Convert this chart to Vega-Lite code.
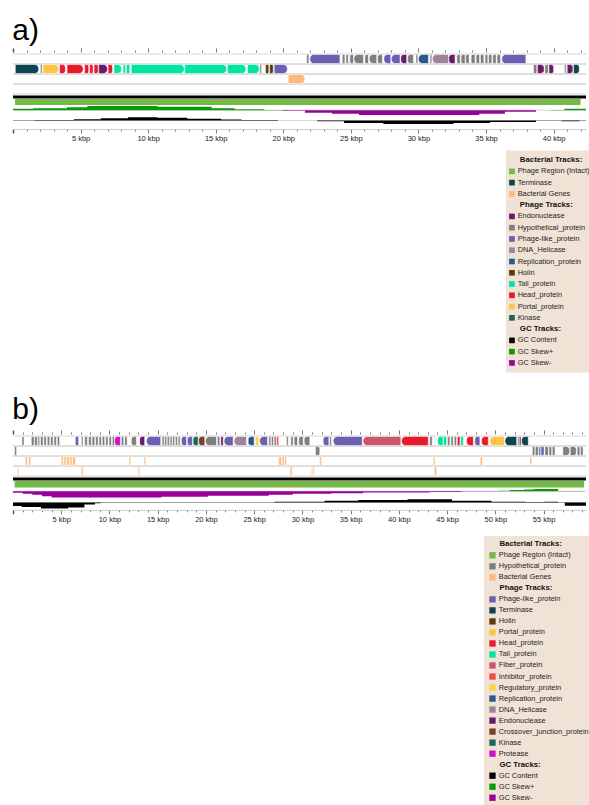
{
"$schema": "https://vega.github.io/schema/vega-lite/v6.json",
"background": "white",
"padding": {"left": 12, "top": 15, "right": 0, "bottom": 0},
"config": {"view": {"stroke": null}, "font": "Liberation Sans", "text": {"font": "Liberation Sans"}},
"datasets": {
"rows": [
{"g":"a","row":"1","kbp":0,"kbp2":42.4},{"g":"a","row":"2","kbp":0,"kbp2":42.4},{"g":"a","row":"3","kbp":0,"kbp2":42.4},{"g":"a","row":"4","kbp":0,"kbp2":42.4},
{"g":"b","row":"1","kbp":0,"kbp2":59.4},{"g":"b","row":"2","kbp":0,"kbp2":59.4},{"g":"b","row":"3","kbp":0,"kbp2":59.4},{"g":"b","row":"4","kbp":0,"kbp2":59.4}
],
"regions": [
{"g":"a","k":"backbone","kbp":0,"kbp2":42.4},{"g":"a","k":"phage","kbp":0.15,"kbp2":42.0},
{"g":"b","k":"backbone","kbp":0,"kbp2":59.4},{"g":"b","k":"phage","kbp":0.17,"kbp2":59.2}
],
"genes": [
{"g":"a","row":"2","kbp":0.17,"kbp2":1.9,"t":"Terminase","d":"+"},
{"g":"a","row":"2","kbp":2.03,"kbp2":2.15,"t":"Hypothetical_protein","d":"+"},
{"g":"a","row":"2","kbp":2.22,"kbp2":3.38,"t":"Portal_protein","d":"+"},
{"g":"a","row":"2","kbp":3.45,"kbp2":3.87,"t":"Head_protein","d":"+"},
{"g":"a","row":"2","kbp":4.0,"kbp2":5.19,"t":"Head_protein","d":"+"},
{"g":"a","row":"2","kbp":5.3,"kbp2":5.6,"t":"Head_protein","d":"+"},
{"g":"a","row":"2","kbp":5.67,"kbp2":5.93,"t":"Head_protein","d":"+"},
{"g":"a","row":"2","kbp":6.0,"kbp2":6.3,"t":"Head_protein","d":"+"},
{"g":"a","row":"2","kbp":6.34,"kbp2":6.99,"t":"Endonuclease","d":"+"},
{"g":"a","row":"2","kbp":7.04,"kbp2":7.36,"t":"Head_protein","d":"+"},
{"g":"a","row":"2","kbp":7.48,"kbp2":8.02,"t":"Tail_protein","d":"+"},
{"g":"a","row":"2","kbp":8.15,"kbp2":8.32,"t":"Tail_protein","d":"+"},
{"g":"a","row":"2","kbp":8.39,"kbp2":8.64,"t":"Tail_protein","d":"+"},
{"g":"a","row":"2","kbp":8.76,"kbp2":12.67,"t":"Tail_protein","d":"+"},
{"g":"a","row":"2","kbp":12.71,"kbp2":15.8,"t":"Tail_protein","d":"+"},
{"g":"a","row":"2","kbp":15.87,"kbp2":17.23,"t":"Tail_protein","d":"+"},
{"g":"a","row":"2","kbp":17.36,"kbp2":18.22,"t":"Tail_protein","d":"+"},
{"g":"a","row":"2","kbp":18.27,"kbp2":18.39,"t":"Hypothetical_protein","d":"+"},
{"g":"a","row":"2","kbp":18.69,"kbp2":18.93,"t":"Holin","d":"+"},
{"g":"a","row":"2","kbp":18.99,"kbp2":19.26,"t":"Holin","d":"+"},
{"g":"a","row":"2","kbp":19.33,"kbp2":20.3,"t":"Phage-like_protein","d":"+"},
{"g":"a","row":"2","kbp":38.52,"kbp2":38.76,"t":"Hypothetical_protein","d":"+"},
{"g":"a","row":"2","kbp":38.81,"kbp2":39.3,"t":"Endonuclease","d":"+"},
{"g":"a","row":"2","kbp":39.36,"kbp2":39.61,"t":"Hypothetical_protein","d":"+"},
{"g":"a","row":"2","kbp":39.66,"kbp2":40.0,"t":"Endonuclease","d":"+"},
{"g":"a","row":"2","kbp":40.81,"kbp2":40.93,"t":"Hypothetical_protein","d":"+"},
{"g":"a","row":"2","kbp":41.01,"kbp2":41.43,"t":"Endonuclease","d":"+"},
{"g":"a","row":"2","kbp":41.48,"kbp2":41.9,"t":"Terminase","d":"+"},
{"g":"a","row":"3","kbp":20.37,"kbp2":21.6,"t":"Bacterial Genes","d":"+"},
{"g":"a","row":"1","kbp":21.73,"kbp2":21.9,"t":"Hypothetical_protein","d":"-"},
{"g":"a","row":"1","kbp":21.97,"kbp2":24.19,"t":"Phage-like_protein","d":"-"},
{"g":"a","row":"1","kbp":24.37,"kbp2":24.56,"t":"Hypothetical_protein","d":"-"},
{"g":"a","row":"1","kbp":24.64,"kbp2":24.81,"t":"Hypothetical_protein","d":"-"},
{"g":"a","row":"1","kbp":24.93,"kbp2":25.19,"t":"Hypothetical_protein","d":"-"},
{"g":"a","row":"1","kbp":25.23,"kbp2":25.93,"t":"Hypothetical_protein","d":"-"},
{"g":"a","row":"1","kbp":26.04,"kbp2":26.3,"t":"Hypothetical_protein","d":"-"},
{"g":"a","row":"1","kbp":26.37,"kbp2":26.91,"t":"Hypothetical_protein","d":"-"},
{"g":"a","row":"1","kbp":26.98,"kbp2":27.33,"t":"Hypothetical_protein","d":"-"},
{"g":"a","row":"1","kbp":27.45,"kbp2":27.95,"t":"Phage-like_protein","d":"-"},
{"g":"a","row":"1","kbp":28.0,"kbp2":28.64,"t":"Phage-like_protein","d":"-"},
{"g":"a","row":"1","kbp":28.7,"kbp2":29.13,"t":"Endonuclease","d":"-"},
{"g":"a","row":"1","kbp":29.2,"kbp2":29.63,"t":"Hypothetical_protein","d":"-"},
{"g":"a","row":"1","kbp":29.82,"kbp2":29.95,"t":"Hypothetical_protein","d":"-"},
{"g":"a","row":"1","kbp":30.0,"kbp2":30.74,"t":"Replication_protein","d":"-"},
{"g":"a","row":"1","kbp":30.86,"kbp2":30.99,"t":"Hypothetical_protein","d":"-"},
{"g":"a","row":"1","kbp":31.04,"kbp2":32.22,"t":"DNA_Helicase","d":"-"},
{"g":"a","row":"1","kbp":32.25,"kbp2":32.71,"t":"Endonuclease","d":"-"},
{"g":"a","row":"1","kbp":32.84,"kbp2":33.09,"t":"Hypothetical_protein","d":"-"},
{"g":"a","row":"1","kbp":33.16,"kbp2":33.45,"t":"Hypothetical_protein","d":"-"},
{"g":"a","row":"1","kbp":33.5,"kbp2":33.75,"t":"Hypothetical_protein","d":"-"},
{"g":"a","row":"1","kbp":33.9,"kbp2":34.19,"t":"Hypothetical_protein","d":"-"},
{"g":"a","row":"1","kbp":34.27,"kbp2":34.52,"t":"Hypothetical_protein","d":"-"},
{"g":"a","row":"1","kbp":34.59,"kbp2":34.84,"t":"Hypothetical_protein","d":"-"},
{"g":"a","row":"1","kbp":34.93,"kbp2":35.13,"t":"Hypothetical_protein","d":"-"},
{"g":"a","row":"1","kbp":35.19,"kbp2":35.43,"t":"Hypothetical_protein","d":"-"},
{"g":"a","row":"1","kbp":35.5,"kbp2":35.75,"t":"Hypothetical_protein","d":"-"},
{"g":"a","row":"1","kbp":35.82,"kbp2":36.07,"t":"Hypothetical_protein","d":"-"},
{"g":"a","row":"1","kbp":36.17,"kbp2":37.95,"t":"Phage-like_protein","d":"-"},
{"g":"b","row":"1","kbp":0.93,"kbp2":1.14,"t":"Hypothetical_protein","d":"-"},
{"g":"b","row":"1","kbp":1.9,"kbp2":2.18,"t":"Hypothetical_protein","d":"-"},
{"g":"b","row":"1","kbp":2.24,"kbp2":2.52,"t":"Hypothetical_protein","d":"-"},
{"g":"b","row":"1","kbp":2.59,"kbp2":2.76,"t":"Hypothetical_protein","d":"-"},
{"g":"b","row":"1","kbp":2.86,"kbp2":3.11,"t":"Hypothetical_protein","d":"-"},
{"g":"b","row":"1","kbp":3.2,"kbp2":3.45,"t":"Hypothetical_protein","d":"-"},
{"g":"b","row":"1","kbp":3.56,"kbp2":3.8,"t":"Hypothetical_protein","d":"-"},
{"g":"b","row":"1","kbp":3.9,"kbp2":4.15,"t":"Hypothetical_protein","d":"-"},
{"g":"b","row":"1","kbp":4.25,"kbp2":4.49,"t":"Hypothetical_protein","d":"-"},
{"g":"b","row":"1","kbp":4.6,"kbp2":4.83,"t":"Hypothetical_protein","d":"-"},
{"g":"b","row":"1","kbp":6.46,"kbp2":6.8,"t":"Phage-like_protein","d":"-"},
{"g":"b","row":"1","kbp":7.09,"kbp2":7.26,"t":"Hypothetical_protein","d":"-"},
{"g":"b","row":"1","kbp":7.43,"kbp2":7.71,"t":"Hypothetical_protein","d":"-"},
{"g":"b","row":"1","kbp":7.84,"kbp2":8.12,"t":"Hypothetical_protein","d":"-"},
{"g":"b","row":"1","kbp":8.2,"kbp2":8.47,"t":"Hypothetical_protein","d":"-"},
{"g":"b","row":"1","kbp":8.57,"kbp2":8.82,"t":"Hypothetical_protein","d":"-"},
{"g":"b","row":"1","kbp":8.92,"kbp2":9.16,"t":"Hypothetical_protein","d":"-"},
{"g":"b","row":"1","kbp":9.26,"kbp2":9.5,"t":"Hypothetical_protein","d":"-"},
{"g":"b","row":"1","kbp":9.61,"kbp2":9.85,"t":"Hypothetical_protein","d":"-"},
{"g":"b","row":"1","kbp":9.96,"kbp2":10.2,"t":"Hypothetical_protein","d":"-"},
{"g":"b","row":"1","kbp":10.3,"kbp2":10.52,"t":"Hypothetical_protein","d":"-"},
{"g":"b","row":"1","kbp":10.55,"kbp2":11.13,"t":"Protease","d":"-"},
{"g":"b","row":"1","kbp":11.23,"kbp2":11.47,"t":"Hypothetical_protein","d":"-"},
{"g":"b","row":"1","kbp":11.58,"kbp2":11.83,"t":"Hypothetical_protein","d":"-"},
{"g":"b","row":"1","kbp":12.27,"kbp2":12.79,"t":"Hypothetical_protein","d":"-"},
{"g":"b","row":"1","kbp":13.13,"kbp2":13.65,"t":"Endonuclease","d":"-"},
{"g":"b","row":"1","kbp":13.83,"kbp2":15.31,"t":"Phage-like_protein","d":"-"},
{"g":"b","row":"1","kbp":15.46,"kbp2":15.66,"t":"Hypothetical_protein","d":"-"},
{"g":"b","row":"1","kbp":15.73,"kbp2":15.94,"t":"Hypothetical_protein","d":"-"},
{"g":"b","row":"1","kbp":16.0,"kbp2":16.21,"t":"Hypothetical_protein","d":"-"},
{"g":"b","row":"1","kbp":16.29,"kbp2":16.49,"t":"Hypothetical_protein","d":"-"},
{"g":"b","row":"1","kbp":16.56,"kbp2":16.76,"t":"Hypothetical_protein","d":"-"},
{"g":"b","row":"1","kbp":16.84,"kbp2":17.04,"t":"Hypothetical_protein","d":"-"},
{"g":"b","row":"1","kbp":17.12,"kbp2":17.32,"t":"Hypothetical_protein","d":"-"},
{"g":"b","row":"1","kbp":17.46,"kbp2":17.98,"t":"Phage-like_protein","d":"-"},
{"g":"b","row":"1","kbp":18.08,"kbp2":18.6,"t":"Phage-like_protein","d":"-"},
{"g":"b","row":"1","kbp":18.67,"kbp2":19.19,"t":"Kinase","d":"-"},
{"g":"b","row":"1","kbp":19.25,"kbp2":19.88,"t":"Crossover_junction_protein","d":"-"},
{"g":"b","row":"1","kbp":19.95,"kbp2":21.09,"t":"Hypothetical_protein","d":"-"},
{"g":"b","row":"1","kbp":21.19,"kbp2":21.43,"t":"Hypothetical_protein","d":"-"},
{"g":"b","row":"1","kbp":21.54,"kbp2":21.79,"t":"Endonuclease","d":"-"},
{"g":"b","row":"1","kbp":21.89,"kbp2":22.82,"t":"Phage-like_protein","d":"-"},
{"g":"b","row":"1","kbp":22.93,"kbp2":24.2,"t":"DNA_Helicase","d":"-"},
{"g":"b","row":"1","kbp":24.38,"kbp2":25.0,"t":"Replication_protein","d":"-"},
{"g":"b","row":"1","kbp":25.13,"kbp2":25.48,"t":"Regulatory_protein","d":"-"},
{"g":"b","row":"1","kbp":25.58,"kbp2":26.38,"t":"Phage-like_protein","d":"-"},
{"g":"b","row":"1","kbp":26.52,"kbp2":26.72,"t":"Hypothetical_protein","d":"-"},
{"g":"b","row":"1","kbp":26.79,"kbp2":27.0,"t":"Hypothetical_protein","d":"-"},
{"g":"b","row":"1","kbp":27.07,"kbp2":27.28,"t":"Hypothetical_protein","d":"-"},
{"g":"b","row":"1","kbp":27.34,"kbp2":27.55,"t":"Inhibitor_protein","d":"-"},
{"g":"b","row":"1","kbp":28.35,"kbp2":28.53,"t":"Hypothetical_protein","d":"-"},
{"g":"b","row":"1","kbp":28.8,"kbp2":29.04,"t":"Hypothetical_protein","d":"-"},
{"g":"b","row":"1","kbp":29.15,"kbp2":29.49,"t":"Hypothetical_protein","d":"-"},
{"g":"b","row":"1","kbp":29.63,"kbp2":30.08,"t":"Hypothetical_protein","d":"-"},
{"g":"b","row":"1","kbp":30.19,"kbp2":30.77,"t":"Hypothetical_protein","d":"-"},
{"g":"b","row":"1","kbp":32.16,"kbp2":32.74,"t":"Phage-like_protein","d":"-"},
{"g":"b","row":"1","kbp":32.84,"kbp2":33.02,"t":"Hypothetical_protein","d":"-"},
{"g":"b","row":"1","kbp":33.2,"kbp2":36.2,"t":"Phage-like_protein","d":"-"},
{"g":"b","row":"1","kbp":36.3,"kbp2":40.2,"t":"Fiber_protein","d":"-"},
{"g":"b","row":"1","kbp":40.28,"kbp2":43.05,"t":"Head_protein","d":"-"},
{"g":"b","row":"1","kbp":43.2,"kbp2":43.46,"t":"Hypothetical_protein","d":"-"},
{"g":"b","row":"1","kbp":44.02,"kbp2":44.58,"t":"Tail_protein","d":"-"},
{"g":"b","row":"1","kbp":44.63,"kbp2":44.95,"t":"Tail_protein","d":"-"},
{"g":"b","row":"1","kbp":45.05,"kbp2":45.29,"t":"Hypothetical_protein","d":"-"},
{"g":"b","row":"1","kbp":45.4,"kbp2":45.64,"t":"Hypothetical_protein","d":"-"},
{"g":"b","row":"1","kbp":45.75,"kbp2":45.98,"t":"Hypothetical_protein","d":"-"},
{"g":"b","row":"1","kbp":46.06,"kbp2":46.33,"t":"Head_protein","d":"-"},
{"g":"b","row":"1","kbp":46.4,"kbp2":46.68,"t":"Tail_protein","d":"-"},
{"g":"b","row":"1","kbp":47.02,"kbp2":47.72,"t":"Head_protein","d":"-"},
{"g":"b","row":"1","kbp":47.88,"kbp2":48.4,"t":"Phage-like_protein","d":"-"},
{"g":"b","row":"1","kbp":48.58,"kbp2":49.27,"t":"Head_protein","d":"-"},
{"g":"b","row":"1","kbp":49.44,"kbp2":50.93,"t":"Portal_protein","d":"-"},
{"g":"b","row":"1","kbp":51.0,"kbp2":52.21,"t":"Terminase","d":"-"},
{"g":"b","row":"1","kbp":52.31,"kbp2":52.45,"t":"Hypothetical_protein","d":"-"},
{"g":"b","row":"1","kbp":52.49,"kbp2":52.66,"t":"Holin","d":"-"},
{"g":"b","row":"1","kbp":52.73,"kbp2":53.42,"t":"Terminase","d":"-"},
{"g":"b","row":"2","kbp":0.17,"kbp2":0.37,"t":"Hypothetical_protein","d":"+"},
{"g":"b","row":"2","kbp":31.36,"kbp2":31.8,"t":"Hypothetical_protein","d":"+"},
{"g":"b","row":"2","kbp":53.84,"kbp2":54.1,"t":"Hypothetical_protein","d":"+"},
{"g":"b","row":"2","kbp":54.15,"kbp2":54.46,"t":"Hypothetical_protein","d":"+"},
{"g":"b","row":"2","kbp":54.5,"kbp2":54.72,"t":"Hypothetical_protein","d":"+"},
{"g":"b","row":"2","kbp":54.74,"kbp2":55.06,"t":"Phage-like_protein","d":"+"},
{"g":"b","row":"2","kbp":55.15,"kbp2":55.5,"t":"Hypothetical_protein","d":"+"},
{"g":"b","row":"2","kbp":55.57,"kbp2":55.84,"t":"Hypothetical_protein","d":"+"},
{"g":"b","row":"2","kbp":55.91,"kbp2":56.19,"t":"Hypothetical_protein","d":"+"},
{"g":"b","row":"2","kbp":57.0,"kbp2":57.7,"t":"Hypothetical_protein","d":"+"},
{"g":"b","row":"2","kbp":57.77,"kbp2":58.4,"t":"Hypothetical_protein","d":"+"},
{"g":"b","row":"2","kbp":58.49,"kbp2":58.77,"t":"Hypothetical_protein","d":"+"},
{"g":"b","row":"2","kbp":58.83,"kbp2":59.1,"t":"Hypothetical_protein","d":"+"},
{"g":"b","row":"3","kbp":1.28,"kbp2":1.48,"t":"Bacterial Genes","d":"-"},
{"g":"b","row":"3","kbp":1.62,"kbp2":1.83,"t":"Bacterial Genes","d":"-"},
{"g":"b","row":"3","kbp":5.01,"kbp2":5.22,"t":"Bacterial Genes","d":"-"},
{"g":"b","row":"3","kbp":5.29,"kbp2":5.5,"t":"Bacterial Genes","d":"-"},
{"g":"b","row":"3","kbp":5.56,"kbp2":5.84,"t":"Bacterial Genes","d":"-"},
{"g":"b","row":"3","kbp":5.91,"kbp2":6.12,"t":"Bacterial Genes","d":"-"},
{"g":"b","row":"3","kbp":6.18,"kbp2":6.46,"t":"Bacterial Genes","d":"-"},
{"g":"b","row":"3","kbp":12.03,"kbp2":12.2,"t":"Bacterial Genes","d":"-"},
{"g":"b","row":"3","kbp":13.59,"kbp2":13.76,"t":"Bacterial Genes","d":"-"},
{"g":"b","row":"3","kbp":27.55,"kbp2":27.83,"t":"Bacterial Genes","d":"-"},
{"g":"b","row":"3","kbp":27.9,"kbp2":28.11,"t":"Bacterial Genes","d":"-"},
{"g":"b","row":"3","kbp":28.17,"kbp2":28.35,"t":"Bacterial Genes","d":"-"},
{"g":"b","row":"3","kbp":31.8,"kbp2":31.98,"t":"Bacterial Genes","d":"-"},
{"g":"b","row":"3","kbp":43.57,"kbp2":43.74,"t":"Bacterial Genes","d":"-"},
{"g":"b","row":"3","kbp":48.44,"kbp2":48.65,"t":"Bacterial Genes","d":"-"},
{"g":"b","row":"3","kbp":53.59,"kbp2":53.77,"t":"Bacterial Genes","d":"-"},
{"g":"b","row":"4","kbp":0.45,"kbp2":0.58,"t":"Bacterial Genes","d":"+"},
{"g":"b","row":"4","kbp":7.09,"kbp2":7.26,"t":"Bacterial Genes","d":"+"},
{"g":"b","row":"4","kbp":12.97,"kbp2":13.13,"t":"Bacterial Genes","d":"+"},
{"g":"b","row":"4","kbp":28.73,"kbp2":28.94,"t":"Bacterial Genes","d":"+"},
{"g":"b","row":"4","kbp":30.94,"kbp2":31.05,"t":"Bacterial Genes","d":"+"},
{"g":"b","row":"4","kbp":31.1,"kbp2":31.22,"t":"Bacterial Genes","d":"+"},
{"g":"b","row":"4","kbp":43.67,"kbp2":43.91,"t":"Bacterial Genes","d":"+"}
],
"skew": [
{"g":"a","sr":"pos","kbp":0,"v":1.5},{"g":"a","sr":"pos","kbp":1.5,"v":2.0},{"g":"a","sr":"pos","kbp":4,"v":3.0},{"g":"a","sr":"pos","kbp":5.5,"v":4.3},{"g":"a","sr":"pos","kbp":10.7,"v":3.4},{"g":"a","sr":"pos","kbp":14.7,"v":2.0},{"g":"a","sr":"pos","kbp":16.4,"v":1.0},{"g":"a","sr":"pos","kbp":18.6,"v":0.3},{"g":"a","sr":"pos","kbp":20.5,"v":0},{"g":"a","sr":"pos","kbp":39.7,"v":0.3},{"g":"a","sr":"pos","kbp":40.8,"v":1.5},{"g":"a","sr":"pos","kbp":42.4,"v":1.5},
{"g":"a","sr":"neg","kbp":19.9,"v":-0.6},{"g":"a","sr":"neg","kbp":21.6,"v":-2.5},{"g":"a","sr":"neg","kbp":23.6,"v":-3.5},{"g":"a","sr":"neg","kbp":25.6,"v":-4.8},{"g":"a","sr":"neg","kbp":34.5,"v":-3.5},{"g":"a","sr":"neg","kbp":36.4,"v":-1.5},{"g":"a","sr":"neg","kbp":38.7,"v":0},
{"g":"b","sr":"neg","kbp":0,"v":-1.5},{"g":"b","sr":"neg","kbp":1,"v":-2.5},{"g":"b","sr":"neg","kbp":2,"v":-3.5},{"g":"b","sr":"neg","kbp":3,"v":-5},{"g":"b","sr":"neg","kbp":4,"v":-6.2},{"g":"b","sr":"neg","kbp":15.4,"v":-5.5},{"g":"b","sr":"neg","kbp":20.2,"v":-4.5},{"g":"b","sr":"neg","kbp":26.5,"v":-3.5},{"g":"b","sr":"neg","kbp":29,"v":-2.5},{"g":"b","sr":"neg","kbp":33,"v":-1.9},{"g":"b","sr":"neg","kbp":36.3,"v":-1.2},{"g":"b","sr":"neg","kbp":43.2,"v":-0.7},{"g":"b","sr":"neg","kbp":46.5,"v":-0.3},{"g":"b","sr":"neg","kbp":50.3,"v":0},
{"g":"b","sr":"pos","kbp":50.3,"v":0.5},{"g":"b","sr":"pos","kbp":51.5,"v":1.2},{"g":"b","sr":"pos","kbp":53,"v":1.8},{"g":"b","sr":"pos","kbp":54,"v":2.2},{"g":"b","sr":"pos","kbp":56.5,"v":0.3},{"g":"b","sr":"pos","kbp":59,"v":0.2},{"g":"b","sr":"pos","kbp":59.3,"v":0}
],
"gc": [
{"g":"a","kbp":0,"v":-0.3},{"g":"a","kbp":1.6,"v":0.5},{"g":"a","kbp":4.5,"v":1.2},{"g":"a","kbp":6.5,"v":2.3},{"g":"a","kbp":8.5,"v":3.3},{"g":"a","kbp":10.7,"v":2.7},{"g":"a","kbp":12.9,"v":1.8},{"g":"a","kbp":15.4,"v":1.0},{"g":"a","kbp":16.9,"v":0.4},{"g":"a","kbp":19.6,"v":0.1},{"g":"a","kbp":22.5,"v":-0.8},{"g":"a","kbp":24.5,"v":-2.5},{"g":"a","kbp":27.4,"v":-3.5},{"g":"a","kbp":32.6,"v":-2.5},{"g":"a","kbp":35.3,"v":-1.5},{"g":"a","kbp":38.7,"v":-0.3},{"g":"a","kbp":40.6,"v":-0.8},{"g":"a","kbp":41.9,"v":-0.3},{"g":"a","kbp":42.4,"v":-0.3},
{"g":"b","kbp":0,"v":-3.5},{"g":"b","kbp":0.9,"v":-4.5},{"g":"b","kbp":2.9,"v":-6},{"g":"b","kbp":5.7,"v":-5},{"g":"b","kbp":7.4,"v":-2},{"g":"b","kbp":8.5,"v":-0.7},{"g":"b","kbp":9.1,"v":-0.3},{"g":"b","kbp":12,"v":0.2},{"g":"b","kbp":20,"v":0.3},{"g":"b","kbp":27.1,"v":0.8},{"g":"b","kbp":32.3,"v":1.7},{"g":"b","kbp":35.8,"v":2.5},{"g":"b","kbp":40.9,"v":3.3},{"g":"b","kbp":45.5,"v":1.7},{"g":"b","kbp":49.6,"v":0.7},{"g":"b","kbp":53.1,"v":0.4},{"g":"b","kbp":55.1,"v":0.7},{"g":"b","kbp":56.5,"v":0.2},{"g":"b","kbp":57.2,"v":-3.3},{"g":"b","kbp":59.4,"v":-3.3}
],
"legendA": [
{"label":"Bacterial Tracks:","kind":"h"},{"label":"Phage Region (Intact)","kind":"i"},{"label":"Terminase","kind":"i"},{"label":"Bacterial Genes","kind":"i"},
{"label":"Phage Tracks:","kind":"h"},{"label":"Endonuclease","kind":"i"},{"label":"Hypothetical_protein","kind":"i"},{"label":"Phage-like_protein","kind":"i"},{"label":"DNA_Helicase","kind":"i"},{"label":"Replication_protein","kind":"i"},{"label":"Holin","kind":"i"},{"label":"Tail_protein","kind":"i"},{"label":"Head_protein","kind":"i"},{"label":"Portal_protein","kind":"i"},{"label":"Kinase","kind":"i"},
{"label":"GC Tracks:","kind":"h"},{"label":"GC Content","kind":"i"},{"label":"GC Skew+","kind":"i"},{"label":"GC Skew-","kind":"i"}
],
"legendB": [
{"label":"Bacterial Tracks:","kind":"h"},{"label":"Phage Region (Intact)","kind":"i"},{"label":"Hypothetical_protein","kind":"i"},{"label":"Bacterial Genes","kind":"i"},
{"label":"Phage Tracks:","kind":"h"},{"label":"Phage-like_protein","kind":"i"},{"label":"Terminase","kind":"i"},{"label":"Holin","kind":"i"},{"label":"Portal_protein","kind":"i"},{"label":"Head_protein","kind":"i"},{"label":"Tail_protein","kind":"i"},{"label":"Fiber_protein","kind":"i"},{"label":"Inhibitor_protein","kind":"i"},{"label":"Regulatory_protein","kind":"i"},{"label":"Replication_protein","kind":"i"},{"label":"DNA_Helicase","kind":"i"},{"label":"Endonuclease","kind":"i"},{"label":"Crossover_junction_protein","kind":"i"},{"label":"Kinase","kind":"i"},{"label":"Protease","kind":"i"},
{"label":"GC Tracks:","kind":"h"},{"label":"GC Content","kind":"i"},{"label":"GC Skew+","kind":"i"},{"label":"GC Skew-","kind":"i"}
]
},
"spacing": 22,
"vconcat": [
{
"title": {"text": "a)", "anchor": "start", "fontSize": 30, "fontWeight": "normal", "font": "Liberation Sans", "color": "#000", "offset": 1.5},
"spacing": 8.5,
"vconcat": [
{
"spacing": 0.5,
"vconcat": [
{
"width": 573, "height": 40,
"data": {"name": "rows"},
"encoding": {
"x": {"field": "kbp", "type": "quantitative", "scale": {"domain": [0, 42.4], "nice": false, "zero": false},
"axis": {"orient": "top", "title": null, "tickCount": 43, "domain": false, "labels": false, "grid": false, "offset": 2, "tickColor": "#555", "tickSize": {"condition": {"test": "datum.value % 5 === 0", "value": 4}, "value": 2}, "tickWidth": {"condition": {"test": "datum.value === 0", "value": 1.5}, "value": 0.8}}},
"x2": {"field": "kbp2"},
"y": {"field": "row", "type": "ordinal", "scale": {"domain": ["1","2","3","4"], "paddingInner": 0, "paddingOuter": 0}, "axis": null}
},
"layer": [
{"transform": [{"filter": "datum.g === 'a'"}], "mark": {"type": "rule", "color": "#d4d4d4", "strokeWidth": 1}, "encoding": {"y": {"field": "row", "type": "ordinal", "bandPosition": 0}}},
{"transform": [{"filter": "datum.g === 'a'"}], "mark": {"type": "rule", "color": "#d4d4d4", "strokeWidth": 1}, "encoding": {"y": {"field": "row", "type": "ordinal", "bandPosition": 1}}},
{"data": {"name": "genes"}, "transform": [{"filter": "datum.g === 'a' && datum.d === '+'"}], "mark": {"type": "bar", "height": {"band": 0.9}, "cornerRadiusTopRight": 4, "cornerRadiusBottomRight": 4, "stroke": "white", "strokeWidth": 0.5},
"encoding": {"color": {"field": "t", "type": "nominal", "legend": null, "scale": {"domain": ["Phage Region (Intact)","Terminase","Bacterial Genes","Endonuclease","Hypothetical_protein","Phage-like_protein","DNA_Helicase","Replication_protein","Holin","Tail_protein","Head_protein","Portal_protein","Kinase","Fiber_protein","Inhibitor_protein","Regulatory_protein","Crossover_junction_protein","Protease","GC Content","GC Skew+","GC Skew-"], "range": ["#76b947","#0e4452","#fdb97d","#6b1a6b","#7f7f7f","#6a5fb0","#a08399","#28598c","#5c3c0e","#00e5a0","#e8192c","#fdc543","#18695a","#c9566b","#f24c4c","#fdd33f","#7b4028","#cc11cc","#000000","#0a990a","#990099"]}}}},
{"data": {"name": "genes"}, "transform": [{"filter": "datum.g === 'a' && datum.d === '-'"}], "mark": {"type": "bar", "height": {"band": 0.9}, "cornerRadiusTopLeft": 4, "cornerRadiusBottomLeft": 4, "stroke": "white", "strokeWidth": 0.5},
"encoding": {"color": {"field": "t", "type": "nominal", "legend": null, "scale": {"domain": ["Phage Region (Intact)","Terminase","Bacterial Genes","Endonuclease","Hypothetical_protein","Phage-like_protein","DNA_Helicase","Replication_protein","Holin","Tail_protein","Head_protein","Portal_protein","Kinase","Fiber_protein","Inhibitor_protein","Regulatory_protein","Crossover_junction_protein","Protease","GC Content","GC Skew+","GC Skew-"], "range": ["#76b947","#0e4452","#fdb97d","#6b1a6b","#7f7f7f","#6a5fb0","#a08399","#28598c","#5c3c0e","#00e5a0","#e8192c","#fdc543","#18695a","#c9566b","#f24c4c","#fdd33f","#7b4028","#cc11cc","#000000","#0a990a","#990099"]}}}}
]
},
{
"width": 573, "height": 3,
"data": {"name": "regions"},
"transform": [{"filter": "datum.g === 'a' && datum.k === 'backbone'"}],
"mark": {"type": "rect", "color": "#000000"},
"encoding": {"x": {"field": "kbp", "type": "quantitative", "scale": {"domain": [0, 42.4], "nice": false, "zero": false}, "axis": null}, "x2": {"field": "kbp2"}}
},
{
"width": 573, "height": 6,
"data": {"name": "regions"},
"transform": [{"filter": "datum.g === 'a' && datum.k === 'phage'"}],
"mark": {"type": "rect", "color": "#76b947"},
"encoding": {"x": {"field": "kbp", "type": "quantitative", "scale": {"domain": [0, 42.4], "nice": false, "zero": false}, "axis": null}, "x2": {"field": "kbp2"}}
},
{
"width": 573, "height": 9.5,
"encoding": {"x": {"field": "kbp", "type": "quantitative", "scale": {"domain": [0, 42.4], "nice": false, "zero": false}, "axis": null}},
"layer": [
{"data": {"name": "regions"}, "transform": [{"filter": "datum.g === 'a' && datum.k === 'backbone'"}], "mark": {"type": "rule", "color": "#cfcfcf", "strokeWidth": 0.8}, "encoding": {"x2": {"field": "kbp2"}, "y": {"datum": 0, "type": "quantitative", "scale": {"domain": [-4.8, 4.7], "nice": false, "zero": false}, "axis": null}}},
{"data": {"name": "skew"}, "transform": [{"filter": "datum.g === 'a' && datum.sr === 'pos'"}], "mark": {"type": "area", "color": "#0a990a", "interpolate": "step-after"}, "encoding": {"y": {"field": "v", "type": "quantitative", "stack": null, "axis": null}, "y2": {"datum": 0}}},
{"data": {"name": "skew"}, "transform": [{"filter": "datum.g === 'a' && datum.sr === 'neg'"}], "mark": {"type": "area", "color": "#990099", "interpolate": "step-after"}, "encoding": {"y": {"field": "v", "type": "quantitative", "stack": null, "axis": null}, "y2": {"datum": 0}}}
]
},
{
"width": 573, "height": 10.5,
"encoding": {"x": {"field": "kbp", "type": "quantitative", "scale": {"domain": [0, 42.4], "nice": false, "zero": false},
"axis": {"orient": "bottom", "title": null, "tickCount": 43, "grid": false, "offset": 2.5, "domainColor": "#cccccc", "tickColor": "#555", "tickSize": {"condition": {"test": "datum.value % 5 === 0", "value": 4}, "value": 2}, "tickWidth": {"condition": {"test": "datum.value === 0", "value": 1.5}, "value": 0.8}, "labelExpr": "datum.value > 0 && datum.value % 5 === 0 ? datum.value + ' kbp' : ''", "labelFontSize": 7.5, "labelColor": "#222", "labelPadding": 1.5, "labelOverlap": false, "labelFlush": false, "labelFont": "Liberation Sans"}}},
"layer": [
{"data": {"name": "regions"}, "transform": [{"filter": "datum.g === 'a' && datum.k === 'backbone'"}], "mark": {"type": "rule", "color": "#cfcfcf", "strokeWidth": 0.8}, "encoding": {"x2": {"field": "kbp2"}, "y": {"datum": 0, "type": "quantitative", "scale": {"domain": [-6, 4.5], "nice": false, "zero": false}, "axis": null}}},
{"data": {"name": "gc"}, "transform": [{"filter": "datum.g === 'a'"}], "mark": {"type": "area", "color": "#000000", "interpolate": "step-after"}, "encoding": {"y": {"field": "v", "type": "quantitative", "stack": null, "axis": null}, "y2": {"datum": 0}}}
]
}
]
},
{
"spacing": 0,
"hconcat": [
{"width": 493, "height": 1, "data": {"values": []}, "mark": "point", "encoding": {}},
{
"width": 84, "height": 222,
"view": {"fill": "#f0e3d6", "stroke": null},
"data": {"name": "legendA"},
"encoding": {"y": {"field": "label", "type": "nominal", "sort": null, "scale": {"type": "point", "padding": 0.85}, "axis": null}},
"layer": [
{"mark": {"type": "square", "size": 32, "filled": true}, "encoding": {"x": {"datum": 0.071, "type": "quantitative", "scale": {"domain": [0, 1]}, "axis": null}, "opacity": {"condition": {"test": "datum.kind === 'i'", "value": 1}, "value": 0},
"color": {"field": "label", "type": "nominal", "legend": null, "scale": {"domain": ["Phage Region (Intact)","Terminase","Bacterial Genes","Endonuclease","Hypothetical_protein","Phage-like_protein","DNA_Helicase","Replication_protein","Holin","Tail_protein","Head_protein","Portal_protein","Kinase","Fiber_protein","Inhibitor_protein","Regulatory_protein","Crossover_junction_protein","Protease","GC Content","GC Skew+","GC Skew-"], "range": ["#76b947","#0e4452","#fdb97d","#6b1a6b","#7f7f7f","#6a5fb0","#a08399","#28598c","#5c3c0e","#00e5a0","#e8192c","#fdc543","#18695a","#c9566b","#f24c4c","#fdd33f","#7b4028","#cc11cc","#000000","#0a990a","#990099"]}}}},
{"mark": {"type": "text", "align": "left", "baseline": "middle", "fontSize": 7.4, "color": "#222"}, "encoding": {"x": {"datum": 0.139, "type": "quantitative"}, "text": {"condition": {"test": "datum.kind === 'i'", "field": "label", "type": "nominal"}, "value": ""}}},
{"mark": {"type": "text", "align": "left", "baseline": "middle", "fontSize": 7.8, "fontWeight": "bold", "color": "#111"}, "encoding": {"x": {"datum": 0.165, "type": "quantitative"}, "text": {"condition": {"test": "datum.kind === 'h'", "field": "label", "type": "nominal"}, "value": ""}}}
]
}
]
}
]
},
{
"title": {"text": "b)", "anchor": "start", "fontSize": 30, "fontWeight": "normal", "font": "Liberation Sans", "color": "#000", "offset": 4},
"spacing": 13,
"vconcat": [
{
"spacing": 0.5,
"vconcat": [
{
"width": 573, "height": 40,
"data": {"name": "rows"},
"encoding": {
"x": {"field": "kbp", "type": "quantitative", "scale": {"domain": [0, 59.4], "nice": false, "zero": false},
"axis": {"orient": "top", "title": null, "tickCount": 60, "domain": false, "labels": false, "grid": false, "offset": 2, "tickColor": "#555", "tickSize": {"condition": {"test": "datum.value % 5 === 0", "value": 4}, "value": 2}, "tickWidth": {"condition": {"test": "datum.value === 0", "value": 1.5}, "value": 0.8}}},
"x2": {"field": "kbp2"},
"y": {"field": "row", "type": "ordinal", "scale": {"domain": ["1","2","3","4"], "paddingInner": 0, "paddingOuter": 0}, "axis": null}
},
"layer": [
{"transform": [{"filter": "datum.g === 'b'"}], "mark": {"type": "rule", "color": "#d4d4d4", "strokeWidth": 1}, "encoding": {"y": {"field": "row", "type": "ordinal", "bandPosition": 0}}},
{"transform": [{"filter": "datum.g === 'b'"}], "mark": {"type": "rule", "color": "#d4d4d4", "strokeWidth": 1}, "encoding": {"y": {"field": "row", "type": "ordinal", "bandPosition": 1}}},
{"data": {"name": "genes"}, "transform": [{"filter": "datum.g === 'b' && datum.d === '+'"}], "mark": {"type": "bar", "height": {"band": 0.9}, "cornerRadiusTopRight": 4, "cornerRadiusBottomRight": 4, "stroke": "white", "strokeWidth": 0.5},
"encoding": {"color": {"field": "t", "type": "nominal", "legend": null, "scale": {"domain": ["Phage Region (Intact)","Terminase","Bacterial Genes","Endonuclease","Hypothetical_protein","Phage-like_protein","DNA_Helicase","Replication_protein","Holin","Tail_protein","Head_protein","Portal_protein","Kinase","Fiber_protein","Inhibitor_protein","Regulatory_protein","Crossover_junction_protein","Protease","GC Content","GC Skew+","GC Skew-"], "range": ["#76b947","#0e4452","#fdb97d","#6b1a6b","#7f7f7f","#6a5fb0","#a08399","#28598c","#5c3c0e","#00e5a0","#e8192c","#fdc543","#18695a","#c9566b","#f24c4c","#fdd33f","#7b4028","#cc11cc","#000000","#0a990a","#990099"]}}}},
{"data": {"name": "genes"}, "transform": [{"filter": "datum.g === 'b' && datum.d === '-'"}], "mark": {"type": "bar", "height": {"band": 0.9}, "cornerRadiusTopLeft": 4, "cornerRadiusBottomLeft": 4, "stroke": "white", "strokeWidth": 0.5},
"encoding": {"color": {"field": "t", "type": "nominal", "legend": null, "scale": {"domain": ["Phage Region (Intact)","Terminase","Bacterial Genes","Endonuclease","Hypothetical_protein","Phage-like_protein","DNA_Helicase","Replication_protein","Holin","Tail_protein","Head_protein","Portal_protein","Kinase","Fiber_protein","Inhibitor_protein","Regulatory_protein","Crossover_junction_protein","Protease","GC Content","GC Skew+","GC Skew-"], "range": ["#76b947","#0e4452","#fdb97d","#6b1a6b","#7f7f7f","#6a5fb0","#a08399","#28598c","#5c3c0e","#00e5a0","#e8192c","#fdc543","#18695a","#c9566b","#f24c4c","#fdd33f","#7b4028","#cc11cc","#000000","#0a990a","#990099"]}}}}
]
},
{
"width": 573, "height": 3,
"data": {"name": "regions"},
"transform": [{"filter": "datum.g === 'b' && datum.k === 'backbone'"}],
"mark": {"type": "rect", "color": "#000000"},
"encoding": {"x": {"field": "kbp", "type": "quantitative", "scale": {"domain": [0, 59.4], "nice": false, "zero": false}, "axis": null}, "x2": {"field": "kbp2"}}
},
{
"width": 573, "height": 6.5,
"data": {"name": "regions"},
"transform": [{"filter": "datum.g === 'b' && datum.k === 'phage'"}],
"mark": {"type": "rect", "color": "#76b947"},
"encoding": {"x": {"field": "kbp", "type": "quantitative", "scale": {"domain": [0, 59.4], "nice": false, "zero": false}, "axis": null}, "x2": {"field": "kbp2"}}
},
{
"width": 573, "height": 9,
"encoding": {"x": {"field": "kbp", "type": "quantitative", "scale": {"domain": [0, 59.4], "nice": false, "zero": false}, "axis": null}},
"layer": [
{"data": {"name": "regions"}, "transform": [{"filter": "datum.g === 'b' && datum.k === 'backbone'"}], "mark": {"type": "rule", "color": "#cfcfcf", "strokeWidth": 0.8}, "encoding": {"x2": {"field": "kbp2"}, "y": {"datum": 0, "type": "quantitative", "scale": {"domain": [-6.2, 2.8], "nice": false, "zero": false}, "axis": null}}},
{"data": {"name": "skew"}, "transform": [{"filter": "datum.g === 'b' && datum.sr === 'pos'"}], "mark": {"type": "area", "color": "#0a990a", "interpolate": "step-after"}, "encoding": {"y": {"field": "v", "type": "quantitative", "stack": null, "axis": null}, "y2": {"datum": 0}}},
{"data": {"name": "skew"}, "transform": [{"filter": "datum.g === 'b' && datum.sr === 'neg'"}], "mark": {"type": "area", "color": "#990099", "interpolate": "step-after"}, "encoding": {"y": {"field": "v", "type": "quantitative", "stack": null, "axis": null}, "y2": {"datum": 0}}}
]
},
{
"width": 573, "height": 10.5,
"encoding": {"x": {"field": "kbp", "type": "quantitative", "scale": {"domain": [0, 59.4], "nice": false, "zero": false},
"axis": {"orient": "bottom", "title": null, "tickCount": 60, "grid": false, "offset": 1.3, "domainColor": "#cccccc", "tickColor": "#555", "tickSize": {"condition": {"test": "datum.value % 5 === 0", "value": 4}, "value": 2}, "tickWidth": {"condition": {"test": "datum.value === 0", "value": 1.5}, "value": 0.8}, "labelExpr": "datum.value > 0 && datum.value % 5 === 0 ? datum.value + ' kbp' : ''", "labelFontSize": 7.5, "labelColor": "#222", "labelPadding": 1.5, "labelOverlap": false, "labelFlush": false, "labelFont": "Liberation Sans"}}},
"layer": [
{"data": {"name": "regions"}, "transform": [{"filter": "datum.g === 'b' && datum.k === 'backbone'"}], "mark": {"type": "rule", "color": "#cfcfcf", "strokeWidth": 0.8}, "encoding": {"x2": {"field": "kbp2"}, "y": {"datum": 0, "type": "quantitative", "scale": {"domain": [-6, 4.5], "nice": false, "zero": false}, "axis": null}}},
{"data": {"name": "gc"}, "transform": [{"filter": "datum.g === 'b'"}], "mark": {"type": "area", "color": "#000000", "interpolate": "step-after"}, "encoding": {"y": {"field": "v", "type": "quantitative", "stack": null, "axis": null}, "y2": {"datum": 0}}}
]
}
]
},
{
"spacing": 0,
"hconcat": [
{"width": 471, "height": 1, "data": {"values": []}, "mark": "point", "encoding": {}},
{
"width": 106, "height": 270,
"view": {"fill": "#f0e3d6", "stroke": null},
"data": {"name": "legendB"},
"encoding": {"y": {"field": "label", "type": "nominal", "sort": null, "scale": {"type": "point", "padding": 0.75}, "axis": null}},
"layer": [
{"mark": {"type": "square", "size": 40, "filled": true}, "encoding": {"x": {"datum": 0.08, "type": "quantitative", "scale": {"domain": [0, 1]}, "axis": null}, "opacity": {"condition": {"test": "datum.kind === 'i'", "value": 1}, "value": 0},
"color": {"field": "label", "type": "nominal", "legend": null, "scale": {"domain": ["Phage Region (Intact)","Terminase","Bacterial Genes","Endonuclease","Hypothetical_protein","Phage-like_protein","DNA_Helicase","Replication_protein","Holin","Tail_protein","Head_protein","Portal_protein","Kinase","Fiber_protein","Inhibitor_protein","Regulatory_protein","Crossover_junction_protein","Protease","GC Content","GC Skew+","GC Skew-"], "range": ["#76b947","#0e4452","#fdb97d","#6b1a6b","#7f7f7f","#6a5fb0","#a08399","#28598c","#5c3c0e","#00e5a0","#e8192c","#fdc543","#18695a","#c9566b","#f24c4c","#fdd33f","#7b4028","#cc11cc","#000000","#0a990a","#990099"]}}}},
{"mark": {"type": "text", "align": "left", "baseline": "middle", "fontSize": 7.4, "color": "#222"}, "encoding": {"x": {"datum": 0.139, "type": "quantitative"}, "text": {"condition": {"test": "datum.kind === 'i'", "field": "label", "type": "nominal"}, "value": ""}}},
{"mark": {"type": "text", "align": "left", "baseline": "middle", "fontSize": 7.8, "fontWeight": "bold", "color": "#111"}, "encoding": {"x": {"datum": 0.146, "type": "quantitative"}, "text": {"condition": {"test": "datum.kind === 'h'", "field": "label", "type": "nominal"}, "value": ""}}}
]
}
]
}
]
}
]
}
